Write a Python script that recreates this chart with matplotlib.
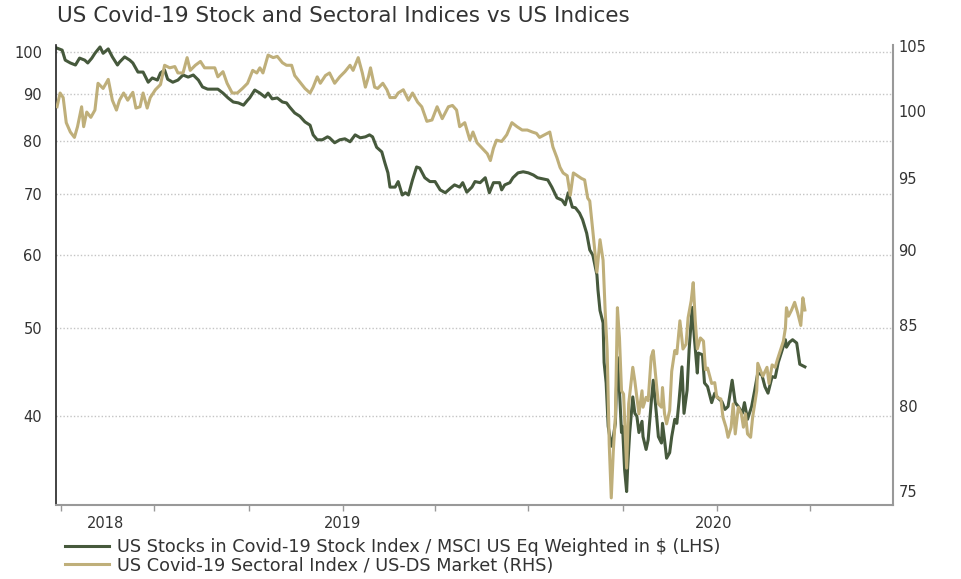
import pandas as pd
import matplotlib
matplotlib.use('Agg')
import matplotlib.pyplot as plt
from matplotlib.ticker import FixedLocator, NullLocator, FuncFormatter

# series are given as day offsets from the first observation
start = pd.Timestamp('2018-03-28')

lhs_days = [0, 5, 8, 13, 18, 22, 27, 30, 34, 37, 42, 45, 50, 54, 59, 61, 66, 71, 74, 79, 84, 89, 93, 98, 101,
            105, 108, 113, 118, 123, 128, 133, 138, 142, 147, 152, 157, 162, 167, 172, 177, 182,
            186, 188, 193, 198, 203, 206, 210, 215, 220, 224, 227, 232, 237, 242, 247, 250, 254, 259, 264,
            266, 271, 276, 281, 286, 291, 296, 301, 305, 308, 312, 317, 320, 323, 325, 330, 333, 337, 340,
            343, 347, 351, 354, 359, 364, 369, 374,
            379, 384, 388, 393, 396, 400, 405, 408, 413, 418, 422, 426, 432, 434, 437, 442, 445, 450, 455,
            460, 465, 469, 474, 479, 483, 488, 493, 496, 499, 503, 506, 510, 513, 517, 520, 523, 527, 528, 530,
            533, 534, 536, 538, 541, 543, 545, 547, 549, 551, 552, 554, 556, 557, 559, 562, 564, 566, 568,
            571, 572, 575, 577, 580, 582, 585, 587, 590, 591, 593, 595, 598, 600, 603, 605, 607, 610, 612,
            615, 617, 620, 622, 625, 626,
            630, 632, 635, 639, 642, 645, 649, 652, 655, 659, 662, 665, 669, 671, 674, 678, 681, 684, 688,
            691, 694, 698, 701, 704, 708, 711, 712, 715, 718, 722, 725, 730]
lhs_vals = [101.0, 100.5, 98.0, 97.3, 96.8, 98.5, 98.0, 97.3, 98.5, 99.7, 101.3, 99.7, 100.8, 98.8, 96.8, 97.5,
            98.8, 98.0, 97.3, 95.1, 95.1, 92.7, 93.7, 93.2, 94.9,
            95.6, 93.4, 92.7, 93.2, 94.4, 93.9, 94.4, 93.2, 91.6, 91.1, 91.1, 91.1, 90.2, 89.1, 88.2, 88.0, 87.5,
            88.6, 89.1, 90.9, 90.2, 89.3, 90.2, 88.9, 89.1, 88.2, 88.0, 87.1, 85.8, 85.1, 83.9, 83.2, 81.2,
            80.2, 80.2, 80.8,
            80.6, 79.6, 80.2, 80.4, 79.8, 81.2, 80.6, 80.8, 81.2, 80.8, 78.7, 77.8, 75.7, 73.8, 71.2, 71.2,
            72.2, 69.8, 70.2,
            69.8, 72.5, 74.9, 74.7, 72.9, 72.2, 72.2, 70.7,
            70.2, 71.0, 71.6, 71.2, 72.0, 70.3, 71.2, 72.2, 72.0, 72.9, 70.2, 72.0, 72.0, 70.7, 71.6, 72.0,
            72.9, 73.8, 74.0,
            73.8, 73.4, 72.9, 72.7, 72.5, 71.2, 69.3, 68.9, 68.1, 70.2, 67.7, 67.6, 66.7, 65.6, 63.4, 60.8,
            60.0, 57.1, 55.0, 52.2,
            50.6, 45.8, 43.5, 39.0, 37.1, 38.0, 39.3, 46.4, 42.7, 38.4, 39.0, 35.0, 33.1, 35.2, 38.4, 42.0,
            40.3, 40.0, 38.4,
            39.5, 38.0, 36.8, 37.7, 41.4, 43.8, 40.3, 38.0, 37.4, 39.3, 37.7, 36.0, 36.5, 38.0, 39.7, 39.3,
            41.4, 45.3, 40.3,
            42.7, 47.3, 52.6, 48.9, 44.6, 46.9,
            46.7, 43.5, 43.1, 41.4, 42.4, 41.9, 41.5, 40.7, 41.0, 43.8, 41.4, 41.0, 40.3, 41.4, 39.7, 41.0,
            42.7, 44.6, 44.4,
            43.1, 42.4, 44.2, 44.1, 45.8, 47.3, 48.5, 47.6, 48.2, 48.5, 48.1, 45.6, 45.3]

rhs_days = [0, 3, 6, 9, 13, 17, 20, 24, 26, 29, 33, 37, 40, 45, 50, 54, 58, 61, 65, 69, 74, 77, 81, 84, 88,
            91, 96, 101, 105, 110, 115, 118, 123, 127, 130, 135, 140, 144, 149, 154, 157, 162, 166, 171,
            176, 181,
            186, 191, 195, 198, 201, 206, 211, 215, 220, 224, 229, 232, 237, 242, 247, 250, 254, 257, 262,
            266, 271, 276, 281, 286, 289, 294, 298, 301, 304, 306, 310, 313, 318, 322, 325, 330, 333, 338,
            343, 347, 352, 356, 361, 366, 371, 376,
            382, 386, 390, 393, 398, 403, 406, 410, 415, 420, 423, 426, 429, 434, 439, 444, 449, 454, 459,
            464, 468, 471, 476, 481, 484, 488, 491, 494, 498, 501, 504, 508, 512, 515, 518,
            520, 523, 527, 530, 533, 535, 537, 539, 541, 543, 545, 547, 549, 551, 553, 556, 558, 562, 564,
            566, 568, 571, 572, 575, 577, 580, 582, 585, 587, 590, 591, 593, 595, 598, 600, 603, 605, 608,
            611, 614, 616, 619, 621, 623, 625,
            628, 631, 633, 635, 639, 642, 644, 648, 650, 653, 655, 658, 660, 662, 665, 668, 670, 672, 674,
            677, 679, 683, 684, 687, 689, 693, 695, 698, 701, 703, 706, 709, 711, 712, 714, 717, 720, 723,
            726, 728, 730]
rhs_vals = [100.3, 101.35, 101.0, 99.1, 98.4, 98.0, 98.8, 100.3, 98.8, 99.9, 99.5, 100.05, 102.1, 101.7,
            102.4, 100.8, 100.05, 100.8, 101.35, 100.8, 101.4, 100.2, 100.3, 101.35, 100.2,
            101.0, 101.6, 102.0, 103.5, 103.3, 103.4, 102.9, 102.9, 104.1, 103.1, 103.5, 103.8, 103.3, 103.3,
            103.3, 102.6, 103.0, 102.1, 101.35,
            101.35, 101.7,
            102.1, 103.1, 102.9, 103.3, 102.9, 104.3, 104.1, 104.2, 103.7, 103.5, 103.5, 102.7, 102.2, 101.7,
            101.35, 101.8, 102.6, 102.1, 102.7,
            102.9, 102.1, 102.6, 103.0, 103.5, 103.1, 104.1, 102.9, 101.8, 102.6, 103.3, 101.8, 101.7, 102.1,
            101.6, 101.0, 101.0, 101.35, 101.6,
            100.8, 101.35, 100.65, 100.3, 99.2, 99.3, 100.3, 99.4,
            100.3, 100.4, 100.05, 98.8, 99.1, 97.8, 98.4, 97.6, 97.2, 96.8, 96.3, 97.2, 97.8, 97.7, 98.2,
            99.1, 98.8, 98.55, 98.55,
            98.4, 98.3, 98.0, 98.2, 98.4, 97.3, 96.5, 95.8, 95.4, 95.2, 93.8, 95.4, 95.2, 95.0, 94.9, 93.6,
            93.4, 91.3, 88.5, 90.7, 89.3, 86.0, 83.4, 77.7, 74.6, 77.3, 79.3, 86.15, 84.2, 80.9, 80.7, 76.3,
            80.1, 82.35, 81.5,
            80.5, 79.5, 80.9, 79.9, 80.5, 80.3, 83.0, 83.4, 81.35, 80.1, 79.9, 81.1, 79.5, 78.9, 79.7, 82.1,
            83.4, 83.2, 85.3,
            83.5, 83.8, 85.5, 86.6, 87.8, 85.3, 83.5,
            84.2, 84.0, 82.2, 82.3, 81.35, 81.4, 80.5, 80.4, 79.3, 78.7, 78.1, 78.7, 80.1, 78.3, 79.9, 79.5,
            78.7, 79.5, 78.3,
            78.1, 79.3, 80.9, 82.6, 82.1, 81.8, 82.35, 81.35, 82.5, 82.35, 82.8, 83.4, 84.0, 84.85, 86.15,
            85.6, 86.0, 86.5, 85.8,
            85.0, 86.8, 86.0]

lhs_label = 'US Stocks in Covid-19 Stock Index / MSCI US Eq Weighted in $ (LHS)'
rhs_label = 'US Covid-19 Sectoral Index / US-DS Market (RHS)'
title = 'US Covid-19 Stock and Sectoral Indices vs US Indices'

lhs_ticks = [40, 50, 60, 70, 80, 90, 100]
rhs_ticks = [75, 80, 85, 90, 95, 100, 105]
quarter_ticks = pd.date_range('2018-04-01', '2020-04-01', freq='QS')
year_labels = ['2018', '2019', '2020']
year_label_dates = pd.to_datetime(['2018-05-14', '2019-01-01', '2019-12-29'])

GREEN = '#46593c'
TAN = '#bfaf7a'
TEXT = '#333333'

lhs_dates = start + pd.to_timedelta(lhs_days, unit='D')
rhs_dates = start + pd.to_timedelta(rhs_days, unit='D')

fig = plt.figure(figsize=(9.61, 5.79), dpi=100)
ax = fig.add_axes([56 / 961, 1 - 505 / 579, (893 - 56) / 961, 460 / 579])
ax2 = ax.twinx()

l1, = ax.plot(lhs_dates, lhs_vals, color=GREEN, lw=2.2, label=lhs_label)
l2, = ax2.plot(rhs_dates, rhs_vals, color=TAN, lw=2.2, label=rhs_label)

# log scales on both sides
ax.set_yscale('log')
ax2.set_yscale('log')
ax.set_ylim(32.0, 101.8)
ax2.set_ylim(74.2, 105.1)

for a, ticks in ((ax, lhs_ticks), (ax2, rhs_ticks)):
    a.yaxis.set_major_locator(FixedLocator(ticks))
    a.yaxis.set_minor_locator(NullLocator())
    a.yaxis.set_major_formatter(FuncFormatter(lambda v, p: '%d' % round(v)))

ax.yaxis.grid(True, linestyle=(0, (1, 1.5)), color='#c4c4c4', lw=1)
ax.tick_params(axis='y', length=0, pad=10, labelsize=10.5, labelcolor=TEXT)
ax2.tick_params(axis='y', length=0, pad=4, labelsize=10.5, labelcolor=TEXT)

# quarterly tick marks, year labels as separate (minor) ticks
ax.set_xlim(pd.Timestamp('2018-03-27'), pd.Timestamp('2020-06-21'))
ax.xaxis.remove_overlapping_locs = False
ax.set_xticks(matplotlib.dates.date2num(quarter_ticks), [''] * len(quarter_ticks))
ax.set_xticks(matplotlib.dates.date2num(year_label_dates), year_labels, minor=True)
ax.tick_params(axis='x', which='major', length=4, color='#999999', width=1)
ax.tick_params(axis='x', which='minor', length=0, pad=8, labelsize=10.5, labelcolor=TEXT)

ax.spines['top'].set_visible(False)
ax.spines['right'].set_visible(False)
ax.spines['left'].set_color('#222222')
ax.spines['left'].set_linewidth(1.2)
ax.spines['bottom'].set_color('#999999')
ax.spines['bottom'].set_linewidth(1.5)
for s in ('top', 'left', 'bottom'):
    ax2.spines[s].set_visible(False)
ax2.spines['right'].set_color('#999999')
ax2.spines['right'].set_linewidth(1.5)

fig.text(57 / 961, 1 - 16 / 579, title, fontsize=15.5, color=TEXT, va='center', ha='left')

fig.legend([l1, l2], [lhs_label, rhs_label], loc='upper left',
           bbox_to_anchor=(65 / 961, 1 - 538 / 579), frameon=False, fontsize=12.7,
           handlelength=2.5, handletextpad=0.45, labelspacing=0.03, borderpad=0,
           borderaxespad=0, labelcolor=TEXT)

fig.savefig('out.png', dpi=100)
